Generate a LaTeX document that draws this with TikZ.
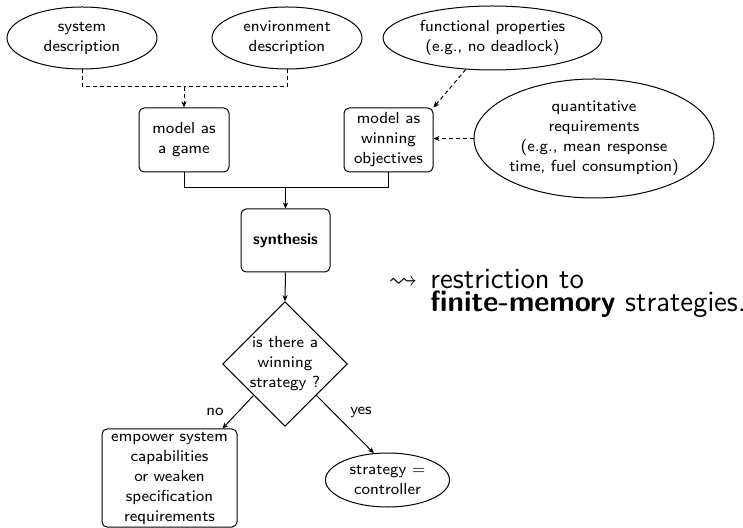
\documentclass[tikz,border=0pt]{standalone}
\usepackage{fontspec}
\usepackage{amssymb}
\usetikzlibrary{shapes.geometric,arrows.meta,calc}
\begin{document}
\begin{tikzpicture}[x=0.5pt,y=-0.5pt,
  every node/.style={font=\sffamily\fontsize{8}{10}\selectfont,align=center,inner sep=0pt},
  conn/.style={line width=0.5pt,-{Stealth[length=3pt,width=2.6pt]}},
  plain/.style={line width=0.5pt},
  dashline/.style={dash pattern=on 2pt off 1.5pt},
  oval/.style={draw,ellipse,line width=0.5pt},
  rbox/.style={draw,rectangle,rounded corners=2.5pt,line width=0.5pt},
  decision/.style={draw,diamond,line width=0.5pt}]
\useasboundingbox (0,0) rectangle (743,528);

% sources of the specification
\node[oval,minimum width=75pt,minimum height=31pt] (sys) at (82,38) {system\\description};
\node[oval,minimum width=75pt,minimum height=31pt] (env) at (287,38) {environment\\description};
\node[oval,minimum width=109.5pt,minimum height=32pt] (func) at (492.5,38) {functional properties\\(e.g., no deadlock)};
\node[oval,minimum width=120pt,minimum height=59.5pt] (quant) at (594,138.5) {quantitative\\requirements\\(e.g., mean response\\time, fuel consumption)};

% modelling steps
\node[rbox,minimum width=45pt,minimum height=32pt] (game) at (184,140) {model as\\a game};
\node[rbox,minimum width=44.5pt,minimum height=32pt] (obj) at (388.5,140) {model as\\winning\\objectives};

\node[rbox,minimum width=44.5pt,minimum height=31.5pt] (synth) at (285.5,240.5) {\bfseries synthesis};
\node[decision,minimum width=62pt,minimum height=62pt] (dec) at (285,364) {is there a\\winning\\strategy ?};

\node[rbox,minimum width=67.5pt,minimum height=49pt] (emp) at (169.5,478) {empower system\\capabilities\\or weaken\\specification\\requirements};
\node[oval,minimum width=62pt,minimum height=27pt] (ctrl) at (387.5,480) {strategy $=$\\controller};

% dashed inputs
\coordinate (dj) at (184,87);
\draw[plain,dashline] (sys.south) |- (dj);
\draw[plain,dashline] (env.south) |- (dj);
\draw[conn,dashline] (dj) -- (game.north);
\draw[conn,dashline] (func) -- (obj.north east);
\draw[conn,dashline] (quant.west) -- (quant.west -| obj.east);

% main flow
\coordinate (sj) at (285.5,188);
\draw[plain] (game.south) |- (sj);
\draw[plain] (obj.south) |- (sj);
\draw[conn] (sj) -- (synth.north);
\draw[conn] (synth.south) -- (dec.north);
\draw[conn] (dec.south west) -- ($(emp.north east)+(-15,0)$) ;
\draw[conn] (dec.south east) -- (ctrl.117);
\node (no) at (215,412) {no};
\node (yes) at (361,412) {yes};

% remark
\node[font=\fontsize{14.4}{16}\selectfont] (lead) at (403,283) {$\leadsto$};
\node[anchor=base west,align=left,font=\sffamily\fontsize{14.65}{11.5}\selectfont] (rem) at (430,312)
  {restriction to\\\textbf{finite-memory} strategies.};
\end{tikzpicture}
\end{document}
